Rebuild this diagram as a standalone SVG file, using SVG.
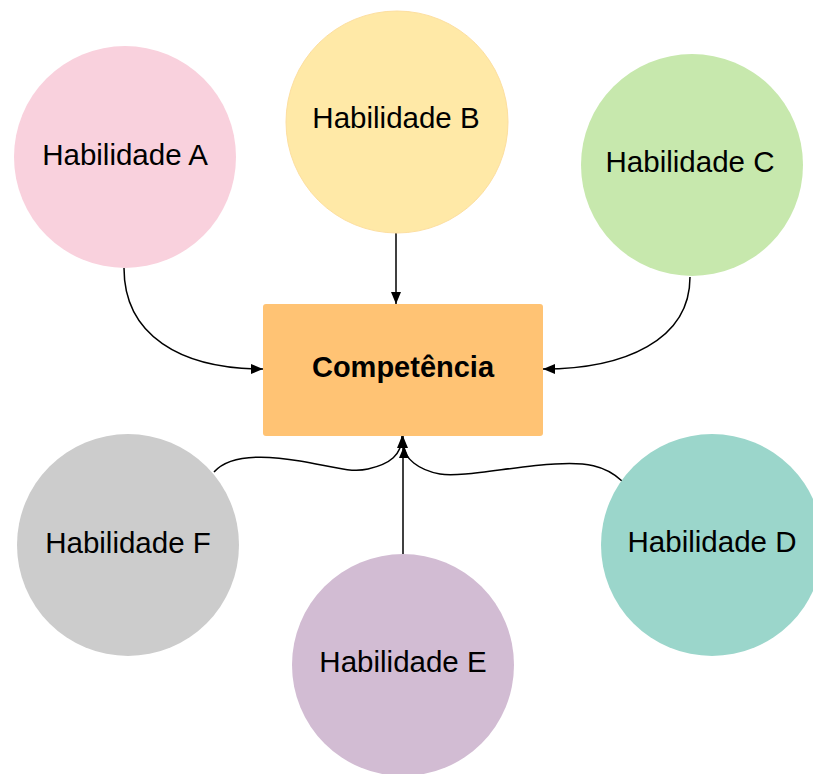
<svg xmlns="http://www.w3.org/2000/svg" width="813" height="774" viewBox="0 0 813 774">
<defs>
<style>
.lbl{font-family:"Liberation Sans",Arial,sans-serif;font-size:29.5px;fill:#000;text-anchor:middle}
.bold{font-weight:bold;font-size:29px}
.conn{fill:none;stroke:#000;stroke-width:1.5}
</style>
<marker id="arr" viewBox="0 0 12 10" refX="12" refY="5" markerWidth="12" markerHeight="10" markerUnits="userSpaceOnUse" orient="auto">
<path d="M0,0 L12,5 L0,10 Z" fill="#000"/>
</marker>
</defs>
<rect width="813" height="774" fill="#fff"/>
<g id="connectors">
<path class="conn" marker-end="url(#arr)" d="M124,268 C124,335 180,369 263,369"/>
<path class="conn" marker-end="url(#arr)" d="M396,233 L396,304"/>
<path class="conn" marker-end="url(#arr)" d="M690,277 C690,340 625,369 543,369"/>
<path class="conn" marker-end="url(#arr)" d="M403,555 L403,436"/>
<path class="conn" marker-end="url(#arr)" d="M214,472 C230,454 265,455 300,461 C330,466 350,473 368,469 C390,464 402,455 402,436"/>
<path class="conn" marker-end="url(#arr)" d="M622,481 C605,465 585,462 555,464 C515,466 460,478 440,474 C418,470 404,458 404,446"/>
</g>
<g id="habA"><circle cx="125" cy="157" r="111" fill="#f9d1dd"/><text class="lbl" x="125" y="165">Habilidade A</text></g>
<g id="habB"><circle cx="397" cy="122" r="111" fill="#ffe9a7" stroke="#fddfa0" stroke-width="1"/><text class="lbl" x="396" y="128">Habilidade B</text></g>
<g id="habC"><circle cx="692" cy="165" r="111" fill="#c7e8ad"/><text class="lbl" x="690" y="172">Habilidade C</text></g>
<g id="comp"><rect x="263" y="304" width="280" height="132" rx="3" fill="#ffc374"/><text class="lbl bold" x="403" y="377">Competência</text></g>
<g id="habF"><circle cx="128" cy="545" r="111" fill="#cccccc"/><text class="lbl" x="128" y="553">Habilidade F</text></g>
<g id="habE"><circle cx="403" cy="665" r="111" fill="#d2bcd3"/><text class="lbl" x="403" y="672">Habilidade E</text></g>
<g id="habD"><circle cx="712" cy="545" r="111" fill="#9bd6cb"/><text class="lbl" x="712" y="552">Habilidade D</text></g>
</svg>
